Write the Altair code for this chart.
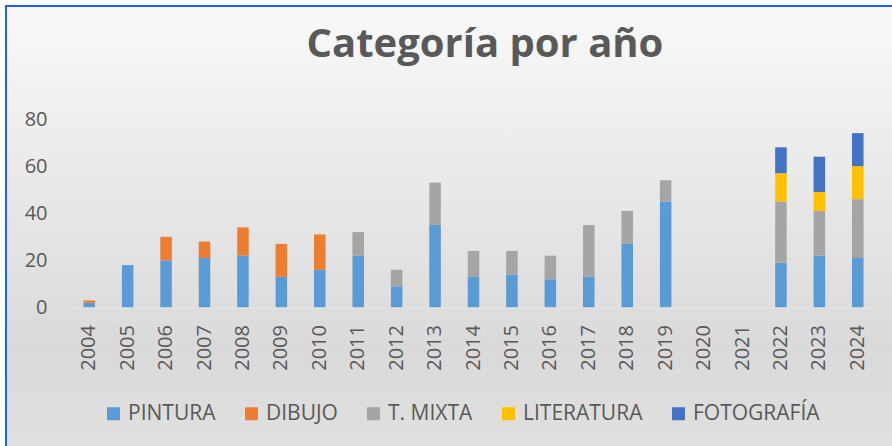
import altair as alt
import pandas as pd

years = [str(y) for y in range(2004, 2025)]
categories = ["PINTURA", "DIBUJO", "T. MIXTA", "LITERATURA", "FOTOGRAFÍA"]
colors = ["#5B9BD5", "#ED7D31", "#A5A5A5", "#FFC000", "#4472C4"]

pintura    = [2, 18, 20, 21, 22, 13, 16, 22, 9, 35, 13, 14, 12, 13, 27, 45, 0, 0, 19, 22, 21]
dibujo     = [1, 0, 10, 7, 12, 14, 15, 0, 0, 0, 0, 0, 0, 0, 0, 0, 0, 0, 0, 0, 0]
mixta      = [0, 0, 0, 0, 0, 0, 0, 10, 7, 18, 11, 10, 10, 22, 14, 9, 0, 0, 26, 19, 25]
literatura = [0, 0, 0, 0, 0, 0, 0, 0, 0, 0, 0, 0, 0, 0, 0, 0, 0, 0, 12, 8, 14]
fotografia = [0, 0, 0, 0, 0, 0, 0, 0, 0, 0, 0, 0, 0, 0, 0, 0, 0, 0, 11, 15, 14]

series = [pintura, dibujo, mixta, literatura, fotografia]
rows = []
for ci, (cat, vals) in enumerate(zip(categories, series)):
    for y, v in zip(years, vals):
        if v > 0:
            rows.append({"year": y, "cat": cat, "value": v, "idx": ci})
df = pd.DataFrame(rows)

FONT = "Open Sans"
GREY = "#595959"

one = pd.DataFrame({"a": [0]})

bg = alt.Chart(one).mark_rect(
    color=alt.Gradient(
        gradient="linear",
        stops=[
            alt.GradientStop(color="#f9f9f9", offset=0),
            alt.GradientStop(color="#dadada", offset=0.75),
            alt.GradientStop(color="#e0e0e0", offset=1),
        ],
        x1=0, x2=0, y1=0, y2=1,
    )
).encode(
    x=alt.value(-64), x2=alt.value(900), y=alt.value(-113), y2=alt.value(340)
)

border = alt.Chart(one).mark_rect(
    fill=None, stroke="#1f5fff", strokeWidth=2
).encode(
    x=alt.value(-64), x2=alt.value(900), y=alt.value(-113), y2=alt.value(360)
)

title = alt.Chart(one).mark_text(
    text="Categoría por año", font=FONT, fontSize=40, fontWeight="bold",
    color=GREY, align="center", baseline="alphabetic"
).encode(x=alt.value(415), y=alt.value(-62))

bars = alt.Chart(df).mark_bar().encode(
    x=alt.X("year:N", scale=alt.Scale(domain=years, paddingInner=0.7, paddingOuter=0.35),
            axis=alt.Axis(title=None, labelAngle=270, labelFontSize=20, labelFont=FONT,
                          labelColor=GREY, ticks=False, labelPadding=17, zindex=1,
                          domainColor="#e6e6e6", domainWidth=1)),
    y=alt.Y("value:Q", stack="zero", scale=alt.Scale(domain=[0, 80], nice=False),
            axis=alt.Axis(title=None, values=[0, 20, 40, 60, 80], labelFontSize=20,
                          labelFont=FONT, labelColor=GREY, ticks=False, domain=False,
                          grid=False, labelPadding=23, zindex=1)),
    color=alt.Color("cat:N", scale=alt.Scale(domain=categories, range=colors),
                    legend=alt.Legend(title=None, orient="none", legendX=33, legendY=284,
                                      direction="horizontal", columns=5,
                                      symbolType="square", symbolSize=169,
                                      symbolStrokeWidth=0, labelFontSize=21,
                                      labelFont=FONT, labelColor=GREY, labelOffset=4,
                                      columnPadding=25, zindex=1)),
    order=alt.Order("idx:Q", sort="ascending"),
)

chart = alt.layer(bg, border, title, bars).properties(
    width=807, height=188.5,
    padding={"left": 70, "top": 119, "right": 15, "bottom": 138.5},
    autosize=alt.AutoSizeParams(type="none"),
    background="#ffffff",
).configure_view(stroke=None)

chart.save("out.html", embed_options={"renderer": "svg", "actions": False})
